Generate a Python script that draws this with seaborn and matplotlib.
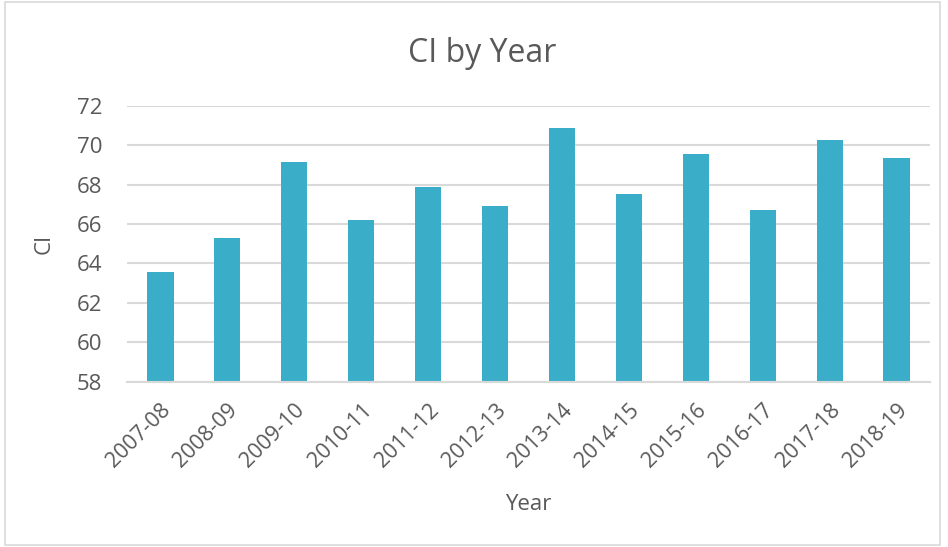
import matplotlib
matplotlib.use("Agg")
import matplotlib.pyplot as plt
import seaborn as sns
import pandas as pd
from matplotlib.patches import Rectangle

years = ["2007-08", "2008-09", "2009-10", "2010-11", "2011-12", "2012-13",
         "2013-14", "2014-15", "2015-16", "2016-17", "2017-18", "2018-19"]
ci_values = [63.57, 65.3, 69.15, 66.2, 67.9, 66.9, 70.87, 67.5, 69.55, 66.7, 70.27, 69.35]
y_ticks = [58, 60, 62, 64, 66, 68, 70, 72]

bar_color = "#3AAEC8"
text_color = "#595959"
grid_color = "#D9D9D9"

sns.set_theme(style="white")
plt.rcParams["font.family"] = ["Open Sans", "DejaVu Sans"]

df = pd.DataFrame({"Year": years, "CI": ci_values})

fig = plt.figure(figsize=(9.48, 5.47), dpi=100)
ax = fig.add_axes([127 / 948, 1 - 381.7 / 547, (930 - 127) / 948, (381.7 - 105.7) / 547])

sns.barplot(data=df, x="Year", y="CI", color=bar_color, saturation=1,
            width=0.39, linewidth=0, ax=ax, zorder=3)

ax.set_ylim(58, 72)
ax.set_yticks(y_ticks)
ax.yaxis.grid(True, color=grid_color, linewidth=1.5, zorder=0)
ax.set_axisbelow(True)
for side in ["top", "right", "left"]:
    ax.spines[side].set_visible(False)
ax.spines["bottom"].set_color(grid_color)
ax.spines["bottom"].set_linewidth(1.5)
ax.spines["bottom"].set_zorder(4)
ax.tick_params(axis="both", length=0, colors=text_color)
ax.tick_params(axis="y", pad=18, labelsize=16)
ax.tick_params(axis="x", pad=13, labelsize=15.5)
plt.setp(ax.get_xticklabels(), rotation=45, ha="right", rotation_mode="anchor")

ax.set_xlabel("Year", fontsize=16, color=text_color, labelpad=16)
ax.set_ylabel("CI", fontsize=16, color=text_color, labelpad=16)
fig.text(482 / 948, 1 - 54 / 547, "CI by Year", fontsize=23, color=text_color,
         ha="center", va="center")

fig.patches.append(Rectangle((5 / 948, 2 / 547), 935 / 948, 543 / 547,
                             transform=fig.transFigure, fill=False,
                             edgecolor=grid_color, linewidth=1.2))

fig.savefig("out.png", dpi=100)
